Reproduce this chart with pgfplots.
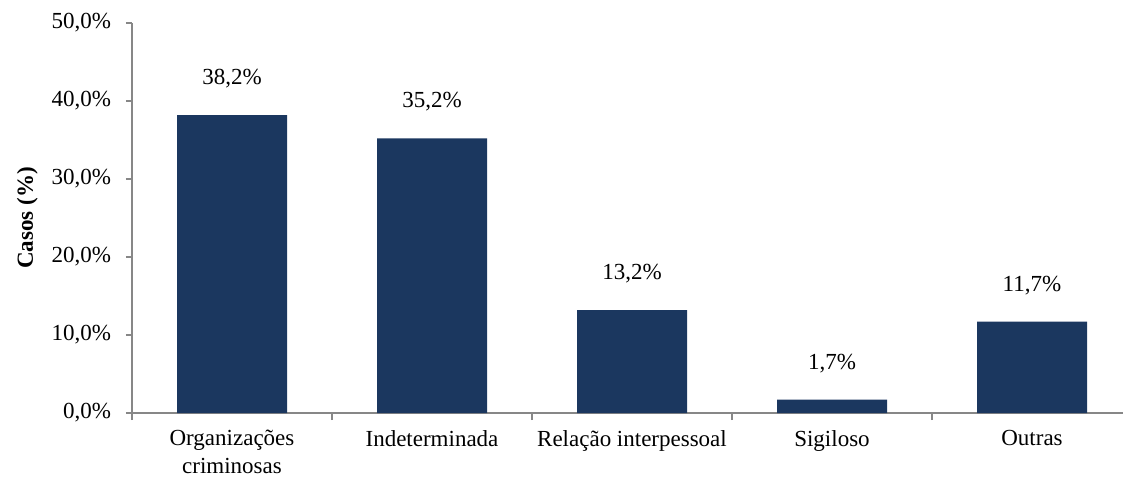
\documentclass[border=0pt]{standalone}
\usepackage{pgfplots}
\pgfplotsset{compat=1.18}
\usepackage{fontspec}
\setmainfont{Liberation Serif}
\definecolor{barblue}{HTML}{1B375F}
\definecolor{axgray}{HTML}{878787}
\begin{document}
\begin{tikzpicture}
\begin{axis}[
  name=ax,
  scale only axis,
  width=495.5pt, height=195pt,
  xmin=-0.5, xmax=4.455,
  ymin=0, ymax=50,
  axis x line=bottom, axis y line=left,
  axis line style={-, axgray, line width=0.9pt},
  ytick={0,10,20,30,40,50},
  yticklabels={{0,0\%},{10,0\%},{20,0\%},{30,0\%},{40,0\%},{50,0\%}},
  xtick={0,1,2,3,4},
  xticklabels={{Organizações\\[1.5pt]criminosas},Indeterminada,Relação interpessoal,Sigiloso,Outras},
  xticklabel style={align=center, font=\fontsize{11.5}{12.5}\selectfont, yshift=-2pt},
  yticklabel style={font=\fontsize{11.5}{12}\selectfont, xshift=-4pt},
  major x tick style={draw=none},
  minor xtick={-0.5,0.5,1.5,2.5,3.5,4.5},
  minor tick length=3.5pt,
  major tick length=3pt,
  tick align=outside,
  tick style={axgray, line width=0.6pt},
  ylabel={\textbf{Casos (\%)}},
  ylabel style={font=\fontsize{11.5}{12}\selectfont, yshift=0pt},
  ybar, bar width=0.55,
  point meta=explicit symbolic,
  nodes near coords,
  every node near coord/.append style={font=\fontsize{11.5}{12}\selectfont, yshift=10pt},
  clip=false,
]
\addplot[fill=barblue, draw=none] coordinates {
  (0,38.2) [38,2\%]
  (1,35.2) [35,2\%]
  (2,13.2) [13,2\%]
  (3,1.7) [1,7\%]
  (4,11.7) [11,7\%]
};
\end{axis}
\pgfresetboundingbox
\path[use as bounding box] ([xshift=-66pt,yshift=-32.5pt]ax.south west) rectangle ++(561.5pt,239pt);
\end{tikzpicture}
\end{document}
